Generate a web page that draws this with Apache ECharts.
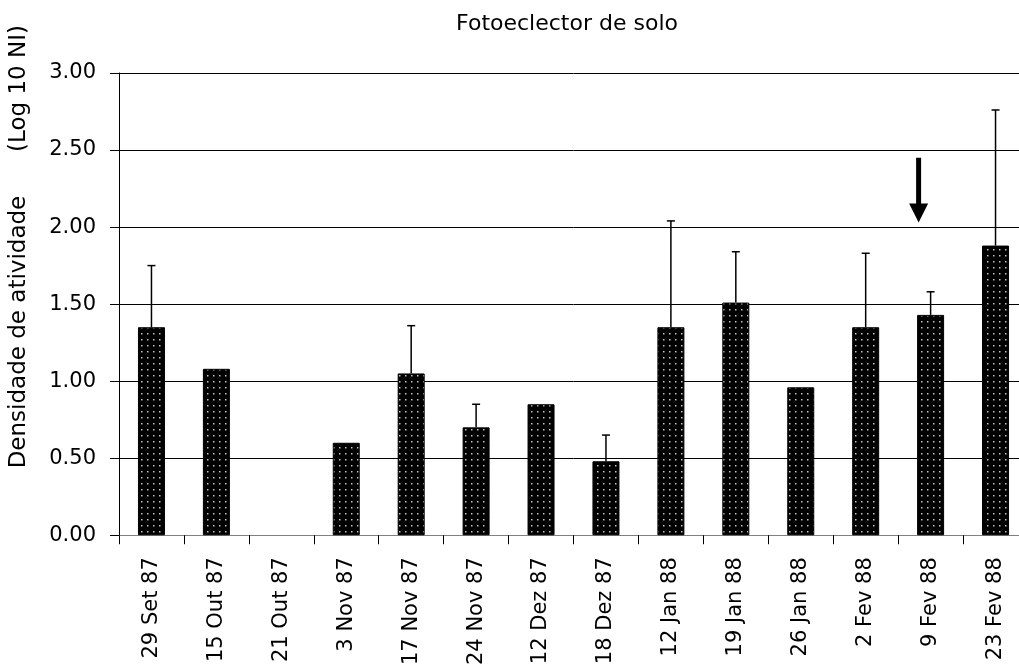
<!DOCTYPE html>
<html>
<head>
<meta charset="utf-8">
<script src="https://cdn.jsdelivr.net/npm/echarts@6/dist/echarts.min.js"></script>
<style>
html,body{margin:0;padding:0;background:#fff;overflow:hidden;}
#c{width:1040px;height:668px;}
</style>
</head>
<body>
<div id="c"></div>
<script>
const categories = ['29 Set 87','15 Out 87','21 Out 87','3 Nov 87','17 Nov 87','24 Nov 87','12 Dez 87','18 Dez 87','12 Jan 88','19 Jan 88','26 Jan 88','2 Fev 88','9 Fev 88','23 Fev 88'];
const means = [1.35, 1.08, null, 0.60, 1.05, 0.70, 0.85, 0.48, 1.35, 1.51, 0.96, 1.35, 1.43, 1.88];
const errUp = [0.40, null, null, null, 0.31, 0.15, null, 0.17, 0.69, 0.33, null, 0.48, 0.15, 0.88];
const yTicks = ['0.00','0.50','1.00','1.50','2.00','2.50','3.00'];
const arrowMark = {category: '9 Fev 88', from: 2.45, to: 2.03};

const FONT = 'DejaVu Sans';

// dotted black fill pattern
const pat = document.createElement('canvas');
pat.width = 6; pat.height = 6;
const pctx = pat.getContext('2d');
pctx.fillStyle = '#000';
pctx.fillRect(0,0,6,6);
pctx.fillStyle = '#c4c4c4';
pctx.fillRect(3,3,1.5,1.5);

const errData = [];
means.forEach((m,i)=>{ if(m!=null && errUp[i]!=null) errData.push([i, m, m+errUp[i]]); });

const chart = echarts.init(document.getElementById('c'), null, {renderer:'canvas'});
chart.setOption({
  animation:false,
  backgroundColor:'#fff',
  title:{text:'Fotoeclector de solo', left:562, top:8, textAlign:'center',
    textStyle:{fontFamily:FONT, fontSize:22, fontWeight:'normal', color:'#000'}},
  grid:{left:119, top:73, width:909, height:463},
  xAxis:{type:'category', data:categories,
    axisLine:{lineStyle:{color:'#808080', width:1}},
    axisTick:{show:true, length:9, lineStyle:{color:'#000'}},
    axisLabel:{rotate:90, fontFamily:FONT, fontSize:21, color:'#000', margin:22, interval:0}},
  yAxis:{type:'value', min:0, max:3, interval:0.5,
    axisLine:{show:true, lineStyle:{color:'#000'}},
    axisTick:{show:true, length:9, lineStyle:{color:'#000'}},
    axisLabel:{fontFamily:FONT, fontSize:21, color:'#000', margin:23,
      formatter:(v)=>yTicks[Math.round(v/0.5)]},
    splitLine:{lineStyle:{color:'#000', width:1}}},
  graphic:[{type:'text', left:8, top:25, rotation:Math.PI/2,
    style:{text:'Densidade de atividade      (Log 10 NI)', font:'23px "DejaVu Sans"', fill:'#000'}}],
  series:[
    {type:'bar', data:means, barWidth:27,
      itemStyle:{color:{image:pat, repeat:'repeat'}, borderColor:'#000', borderWidth:1}},
    {type:'custom', data:errData, z:5,
      renderItem:(params, api)=>{
        const x = api.value(0);
        const p0 = api.coord([x, api.value(1)]);
        const p1 = api.coord([x, api.value(2)]);
        const st = {stroke:'#000', lineWidth:1.5};
        return {type:'group', children:[
          {type:'line', shape:{x1:p0[0], y1:p0[1], x2:p1[0], y2:p1[1]}, style:st},
          {type:'line', shape:{x1:p1[0]-4, y1:p1[1], x2:p1[0]+4, y2:p1[1]}, style:st}
        ]};
      }},
    {type:'custom', data:[[categories.indexOf(arrowMark.category), arrowMark.from, arrowMark.to]], z:6,
      renderItem:(params, api)=>{
        const x = api.value(0);
        const a = api.coord([x, api.value(1)]);
        const b = api.coord([x, api.value(2)]);
        const cx = a[0] - 12;
        const headH = 19, headW = 9.5;
        return {type:'group', children:[
          {type:'rect', shape:{x:cx-2.5, y:a[1], width:5, height:(b[1]-headH)-a[1]+1}, style:{fill:'#000'}},
          {type:'polygon', shape:{points:[[cx-headW, b[1]-headH],[cx+headW, b[1]-headH],[cx, b[1]]]}, style:{fill:'#000'}}
        ]};
      }}
  ]
});
</script>
</body>
</html>
